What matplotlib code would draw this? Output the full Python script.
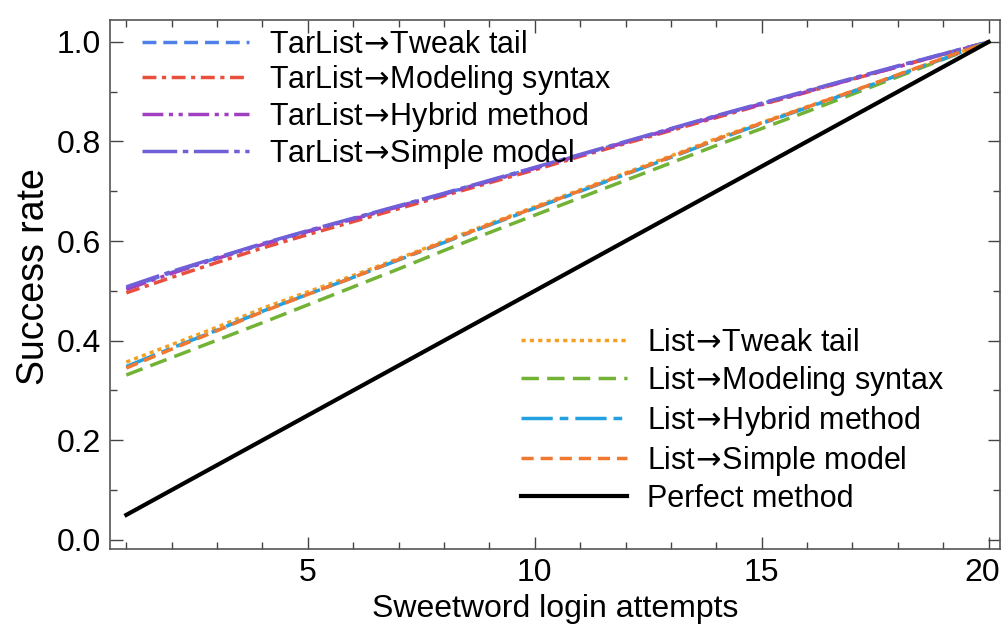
import numpy as np
import matplotlib
matplotlib.use("Agg")
import matplotlib.pyplot as plt
import matplotlib.transforms as mtransforms
from matplotlib.ticker import MultipleLocator

plt.rcParams['font.family'] = ['Liberation Sans', 'DejaVu Sans']
plt.rcParams['mathtext.fontset'] = 'dejavusans'

attempts = np.arange(1, 21)

tar_tweak = [0.505, 0.537, 0.566, 0.594, 0.620, 0.645, 0.670, 0.695, 0.721, 0.747,
             0.773, 0.799, 0.825, 0.851, 0.876, 0.901, 0.926, 0.951, 0.976, 1.0]
tar_modeling = [0.496, 0.527, 0.557, 0.586, 0.613, 0.639, 0.665, 0.691, 0.717, 0.743,
                0.770, 0.796, 0.822, 0.848, 0.874, 0.899, 0.925, 0.950, 0.975, 1.0]
tar_hybrid = [0.503, 0.535, 0.565, 0.593, 0.619, 0.644, 0.669, 0.694, 0.720, 0.746,
              0.772, 0.798, 0.824, 0.850, 0.875, 0.900, 0.925, 0.950, 0.975, 1.0]
tar_simple = [0.508, 0.539, 0.567, 0.595, 0.621, 0.646, 0.671, 0.696, 0.722, 0.748,
              0.774, 0.800, 0.826, 0.852, 0.877, 0.902, 0.927, 0.952, 0.976, 1.0]

list_tweak = [0.357, 0.392, 0.427, 0.465, 0.498, 0.531, 0.565, 0.600, 0.635, 0.669,
              0.703, 0.737, 0.771, 0.806, 0.838, 0.870, 0.901, 0.934, 0.967, 1.0]
list_modeling = [0.331, 0.366, 0.401, 0.436, 0.472, 0.508, 0.544, 0.581, 0.617, 0.652,
                 0.687, 0.722, 0.757, 0.792, 0.826, 0.860, 0.895, 0.930, 0.965, 1.0]
list_hybrid = [0.348, 0.385, 0.421, 0.459, 0.493, 0.527, 0.562, 0.597, 0.632, 0.666,
               0.700, 0.734, 0.768, 0.803, 0.836, 0.868, 0.900, 0.933, 0.966, 1.0]
list_simple = [0.345, 0.383, 0.420, 0.458, 0.493, 0.527, 0.563, 0.598, 0.633, 0.667,
               0.701, 0.735, 0.769, 0.804, 0.837, 0.869, 0.901, 0.934, 0.967, 1.0]

perfect = attempts / 20.0

# arrow from DejaVu via mathtext, with most of the relation spacing taken out
arrow = r'$\!\rightarrow\!$'
tar_labels = ['TarList' + arrow + 'Tweak tail', 'TarList' + arrow + 'Modeling syntax',
              'TarList' + arrow + 'Hybrid method', 'TarList' + arrow + 'Simple model']
list_labels = ['List' + arrow + 'Tweak tail', 'List' + arrow + 'Modeling syntax',
               'List' + arrow + 'Hybrid method', 'List' + arrow + 'Simple model',
               'Perfect method']

fig = plt.figure(figsize=(10.04, 6.25), dpi=100)
ax = fig.add_axes([0.110, 0.122, 0.886, 0.846])

lw = 2.5
h1, = ax.plot(attempts, tar_tweak, color='#4f7fe8', lw=lw, ls=(0, (4, 2)))
h2, = ax.plot(attempts, tar_modeling, color='#e8503c', lw=lw, ls=(0, (4, 1.6, 1.2, 1.6)))
h3, = ax.plot(attempts, tar_hybrid, color='#a040c0', lw=lw, ls=(0, (6, 1.6, 1.2, 1.6, 1.2, 1.6)))
h4, = ax.plot(attempts, tar_simple, color='#7060d8', lw=lw, ls=(0, (10, 1.6, 1.6, 1.6)))

h5, = ax.plot(attempts, list_tweak, color='#f5a023', lw=lw, ls=(0, (1.2, 1.2)))
h6, = ax.plot(attempts, list_modeling, color='#72b235', lw=lw, ls=(0, (5, 2.4)))
h7, = ax.plot(attempts, list_hybrid, color='#22a0e0', lw=lw, ls=(0, (9, 2, 2.5, 2)))
h8, = ax.plot(attempts, list_simple, color='#f07830', lw=lw, ls=(0, (3.5, 2)))
h9, = ax.plot(attempts, perfect, color='black', lw=3.0)

ax.set_xlim(0.65, 20.25)
ax.set_ylim(-0.018, 1.044)
ax.xaxis.set_major_locator(MultipleLocator(5))
ax.xaxis.set_minor_locator(MultipleLocator(1))
ax.yaxis.set_major_locator(MultipleLocator(0.2))
ax.yaxis.set_minor_locator(MultipleLocator(0.1))
ax.set_xticks([5, 10, 15, 20])
ax.tick_params(which='both', direction='in', top=True, right=True,
               color='#444444', width=1.0)
ax.tick_params(which='major', length=9, labelsize=23, pad=7)
ax.tick_params(which='minor', length=5)
for s in ax.spines.values():
    s.set_color('#555555')
    s.set_linewidth(1.2)

# keep the "20" inside the canvas
last = ax.get_xticklabels()[-1]
last.set_transform(last.get_transform() +
                   mtransforms.ScaledTranslation(-6 / 100, 0, fig.dpi_scale_trans))

ax.set_xlabel('Sweetword login attempts', fontsize=23, labelpad=4)
ax.set_ylabel('Success rate', fontsize=27)
ax.yaxis.set_label_coords(-0.066, 0.515)

leg1 = ax.legend([h1, h2, h3, h4], tar_labels,
                 loc='upper left', bbox_to_anchor=(0.036, 0.982), frameon=False,
                 borderpad=0, borderaxespad=0,
                 fontsize=22, handlelength=3.5, handletextpad=0.65, labelspacing=0.1)
ax.add_artist(leg1)
ax.legend([h5, h6, h7, h8, h9], list_labels,
          loc='upper left', bbox_to_anchor=(0.461, 0.418), frameon=False,
          borderpad=0, borderaxespad=0,
          fontsize=22, handlelength=3.5, handletextpad=0.65, labelspacing=0.2)

fig.savefig('out.png', dpi=100)
